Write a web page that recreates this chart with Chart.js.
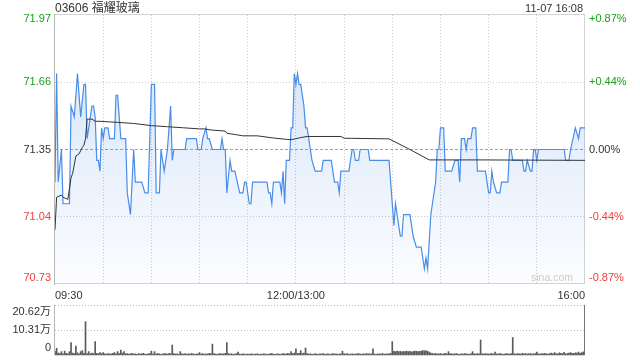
<!DOCTYPE html>
<html><head><meta charset="utf-8">
<script src="https://cdn.jsdelivr.net/npm/chart.js@4/dist/chart.umd.min.js"></script>
<style>
html,body{margin:0;padding:0;background:#fff;width:640px;height:360px;overflow:hidden;}
body{position:relative;font-family:"Liberation Sans",Arial,"Noto Sans CJK SC",sans-serif;}
#title{position:absolute;left:55px;top:0px;font-size:12px;line-height:16px;color:#333;}
#stamp{position:absolute;right:57px;top:0px;font-size:11px;line-height:16px;color:#333;}
#wm{position:absolute;left:531px;top:271px;font-size:10.5px;line-height:12px;color:#cccccc;}
canvas{position:absolute;left:0;}
#pc{top:0}
#vc{top:300px}
</style></head><body>
<canvas id="pc" width="640" height="300"></canvas>
<canvas id="vc" width="640" height="60"></canvas>
<div id="title">03606 福耀玻璃</div>
<div id="stamp">11-07 16:08</div>
<div id="wm">sina.com</div>
<script>
// ---- data ----
const prevClose = 71.35;
const priceTicks = [70.73, 71.04, 71.35, 71.66, 71.97];
const pctLabels = ['-0.87%', '-0.44%', '0.00%', '+0.44%', '+0.87%'];
const timeTicks = [0, 30, 60, 90, 120, 150, 180, 210, 240, 270, 300, 330]; // minutes of trading since 09:30
const timeLabels = {0: '09:30', 150: '12:00/13:00', 330: '16:00'};

const priceMin = [0,1,2,4,5,9,10,12,14,16,18,19,20,21,23,24,25,26,27,28,29,30,31,33,34,37,38,39,41,44,45,47,49,50,54,56,58,60,62,63,65,66,68,70,72,73,74,81,82,88,89,91,92,94,95,96,98,103,104,105,106,107,109,110,112,115,117,118,119,121,122,123,132,133,134,135,136,140,141,142,143,144,146,147,148,149,150,151,152,153,155,156,157,159,160,162,166,167,172,174,176,177,178,183,185,186,187,189,190,195,196,208,210,211,212,213,215,216,217,221,222,223,225,228,229,230,231,232,234,235,237,238,239,240,242,243,247,249,251,252,253,255,256,257,259,260,262,263,268,270,271,272,273,275,277,278,282,283,284,285,291,292,293,294,296,297,298,299,300,301,317,318,320,321,324,326,327,330];
const priceVal = [71.20,71.70,71.20,71.35,71.10,71.10,71.55,71.50,71.70,71.50,71.65,71.65,71.40,71.45,71.55,71.55,71.50,71.30,71.30,71.25,71.45,71.40,71.45,71.45,71.40,71.40,71.60,71.60,71.40,71.40,71.15,71.05,71.35,71.20,71.20,71.15,71.15,71.65,71.65,71.15,71.15,71.35,71.25,71.35,71.55,71.30,71.35,71.35,71.40,71.40,71.35,71.35,71.40,71.45,71.40,71.40,71.35,71.35,71.40,71.35,71.35,71.15,71.30,71.25,71.25,71.15,71.15,71.20,71.20,71.10,71.10,71.20,71.20,71.15,71.15,71.10,71.20,71.20,71.15,71.25,71.10,71.30,71.30,71.45,71.45,71.70,71.65,71.70,71.65,71.65,71.55,71.45,71.45,71.35,71.30,71.25,71.25,71.30,71.30,71.20,71.20,71.15,71.25,71.25,71.35,71.35,71.30,71.30,71.35,71.35,71.30,71.30,71.10,71.00,71.10,71.05,70.95,70.95,71.05,71.05,71.00,70.95,70.90,70.90,70.85,70.80,70.85,70.80,71.05,71.10,71.20,71.35,71.35,71.45,71.45,71.25,71.25,71.30,71.30,71.20,71.40,71.40,71.35,71.40,71.40,71.45,71.45,71.25,71.25,71.15,71.15,71.25,71.20,71.15,71.15,71.20,71.20,71.35,71.35,71.30,71.30,71.25,71.25,71.30,71.25,71.25,71.35,71.35,71.30,71.35,71.35,71.30,71.30,71.35,71.45,71.40,71.45,71.45];

const avgMin = [0,1,4,5,8,10,11,13,15,17,18,19,20,23,25,28,39,49,60,70,80,90,93,97,106,107,113,117,126,136,144,147,153,157,178,180,208,221,233,264,330];
const avgVal = [70.98,71.13,71.14,71.13,71.12,71.22,71.24,71.32,71.33,71.36,71.37,71.40,71.49,71.49,71.48,71.48,71.475,71.47,71.46,71.455,71.45,71.445,71.445,71.44,71.435,71.425,71.418,71.413,71.413,71.403,71.397,71.395,71.405,71.41,71.41,71.402,71.399,71.35,71.302,71.302,71.30];

// volume per minute, 万股 (index = minutes since 09:30)
const volume = [
1.5,2.75,0.8,0.6,1.4,0.5,1.6,0.7,0.5,1.4,5.1,0.8,0.6,3.7,0.9,0.5,1.4,1.8,0.7,13.75,0.6,1.4,0.5,0.8,0.6,5.5,0.7,0.5,1.0,0.6,
1.0,0.5,0.4,0.6,0.5,0.4,0.7,1.0,0.5,1.4,0.6,2.0,0.8,1.4,0.5,0.6,0.4,0.5,0.7,0.4,0.5,0.3,0.6,0.4,0.5,0.7,0.4,0.3,0.5,0.6,
1.6,0.5,1.4,0.4,0.6,0.5,0.3,0.4,0.6,0.5,0.4,0.7,0.5,4.1,0.6,0.4,0.5,0.3,1.4,0.5,0.4,0.6,0.3,0.5,0.4,0.6,0.5,0.3,0.4,0.5,
1.0,0.4,0.6,0.3,0.5,0.4,0.7,0.5,4.5,0.6,0.4,0.3,0.5,0.6,0.4,0.5,0.7,5.1,0.6,0.4,0.5,0.3,0.4,0.6,1.2,0.4,0.3,0.5,0.4,0.3,
0.4,0.3,0.5,0.4,0.3,0.4,0.5,0.3,0.4,0.3,0.5,0.4,0.3,0.4,0.5,0.6,0.4,0.3,0.4,0.5,0.3,0.4,0.6,0.5,0.4,0.7,0.5,1.4,0.6,0.8,
2.5,0.6,0.7,1.8,0.6,0.8,2.9,0.6,0.4,0.5,0.3,0.4,0.5,0.4,0.3,0.5,0.4,0.6,0.3,0.4,0.5,0.3,0.4,0.6,0.4,0.5,0.3,0.4,0.5,1.6,
0.5,0.4,0.6,0.3,0.4,0.5,0.3,0.4,0.5,0.6,0.4,0.3,0.5,0.4,0.6,0.5,0.4,0.5,2.5,0.4,0.3,0.4,0.5,0.4,0.6,0.3,0.5,0.4,0.6,0.6,
5.5,1.5,1.4,1.6,1.4,1.5,1.3,1.5,1.4,1.6,1.4,1.5,1.3,1.4,1.6,1.5,1.4,1.5,1.6,1.8,1.7,1.8,1.5,1.2,0.8,0.6,0.5,0.7,0.4,0.5,
0.6,0.4,0.5,0.7,0.5,1.4,0.6,0.5,0.4,0.5,0.6,0.4,0.3,0.5,0.4,0.6,0.5,0.4,0.3,0.6,1.4,0.5,0.4,0.6,0.5,6.2,0.5,0.4,0.6,0.5,
0.4,0.5,0.6,0.4,1.2,0.5,0.4,0.6,0.5,0.3,0.4,0.6,0.5,0.4,0.6,7.2,0.5,0.4,0.6,0.5,0.4,0.7,0.5,0.6,0.4,0.5,0.6,0.4,0.5,0.6,
1.2,0.5,0.4,0.6,0.5,0.7,0.5,0.4,0.6,0.8,0.5,1.0,0.6,0.5,0.9,0.7,0.6,1.1,0.5,0.6,0.8,1.0,0.7,0.6,0.9,0.8,1.2,0.7,1.0,1.3,
20.62
];
const volTicks = [0, 10.31, 20.62];
const volLabels = ['0', '10.31万', '20.62万'];

// ---- helpers ----
const FONT = '"Liberation Sans", Arial, "Noto Sans CJK SC", sans-serif';
const GREEN = '#1d9e1d', RED = '#f03c3c', DARK = '#333333';
function tickColor(v) { return v > prevClose + 1e-9 ? GREEN : (v < prevClose - 1e-9 ? RED : DARK); }
function edge(text, i, n) { if (i === n - 1) return ['', text]; if (i === 0) return [text, '']; return text; }
function noPad(s) { s.paddingTop = 0; s.paddingBottom = 0; s.paddingLeft = 0; s.paddingRight = 0; }

const priceGrid = {
  id: 'priceGrid',
  beforeDatasetsDraw(chart) {
    const {ctx, chartArea: a, scales: {x, y}} = chart;
    ctx.save();
    ctx.lineWidth = 1;
    ctx.strokeStyle = '#cccccc';
    ctx.setLineDash([1, 2]);
    timeTicks.forEach(t => {
      if (t <= timeTicks[0] || t >= timeTicks[timeTicks.length - 1]) return;
      const px = Math.floor(x.getPixelForValue(t)) + 0.5;
      ctx.beginPath(); ctx.moveTo(px, a.top); ctx.lineTo(px, a.bottom); ctx.stroke();
    });
    priceTicks.forEach((v, i) => {
      if (i === 0 || i === priceTicks.length - 1) return;
      const py = Math.floor(y.getPixelForValue(v)) + 0.5;
      if (v === prevClose) { ctx.strokeStyle = '#a0a0a0'; ctx.setLineDash([3, 2]); }
      else { ctx.strokeStyle = '#cccccc'; ctx.setLineDash([1, 2]); }
      ctx.beginPath(); ctx.moveTo(a.left, py); ctx.lineTo(a.right, py); ctx.stroke();
    });
    ctx.setLineDash([]);
    ctx.strokeStyle = '#d4d4d4';
    ctx.strokeRect(Math.floor(a.left) - 0.5, Math.floor(a.top) - 0.5, Math.round(a.right - a.left), Math.round(a.bottom - a.top));
    ctx.strokeStyle = '#b8b8b8';
    ctx.beginPath(); ctx.moveTo(Math.floor(a.left) - 0.5, a.top - 1); ctx.lineTo(Math.floor(a.left) - 0.5, a.bottom + 1); ctx.stroke();
    ctx.restore();
  }
};

const volGrid = {
  id: 'volGrid',
  beforeDatasetsDraw(chart) {
    const {ctx, chartArea: a, scales: {y}} = chart;
    ctx.save();
    ctx.lineWidth = 1;
    ctx.strokeStyle = '#bdbdbd';
    ctx.setLineDash([1, 2]);
    volTicks.forEach((v, i) => {
      if (i === 0) return;
      const py = Math.floor(y.getPixelForValue(v)) + 0.5;
      ctx.beginPath(); ctx.moveTo(a.left, py); ctx.lineTo(a.right, py); ctx.stroke();
    });
    ctx.setLineDash([]);
    ctx.strokeStyle = '#b8b8b8';
    const lx = Math.floor(a.left) - 0.5;
    ctx.beginPath(); ctx.moveTo(lx, a.top); ctx.lineTo(lx, a.bottom); ctx.stroke();
    ctx.strokeStyle = '#d4d4d4';
    ctx.beginPath(); ctx.moveTo(a.left, Math.floor(a.bottom) + 0.5); ctx.lineTo(a.right, Math.floor(a.bottom) + 0.5); ctx.stroke();
    ctx.restore();
  }
};

function fillGrad(c) {
  const a = c.chart.chartArea;
  if (!a) return 'rgba(74,141,232,0.12)';
  const g = c.chart.ctx.createLinearGradient(0, a.top, 0, a.bottom);
  g.addColorStop(0, 'rgba(74,141,232,0.26)');
  g.addColorStop(1, 'rgba(74,141,232,0.02)');
  return g;
}

const lhPrice = (i, n) => (i === n - 1 ? 8 / 11 : (i === 0 ? 13 / 11 : 1.2));

new Chart(document.getElementById('pc'), {
  type: 'line',
  data: {
    datasets: [
      { label: '均价', data: avgMin.map((m, i) => ({x: m, y: avgVal[i]})), borderColor: '#333333', borderWidth: 1,
        pointRadius: 0, fill: false, order: 0, yAxisID: 'y', tension: 0 },
      { label: '价格', data: priceMin.map((m, i) => ({x: m, y: priceVal[i]})), borderColor: '#4a8de8', borderWidth: 1.2,
        pointRadius: 0, fill: 'start', backgroundColor: fillGrad, order: 1, yAxisID: 'y', tension: 0 }
    ]
  },
  options: {
    responsive: false, animation: false, events: [],
    layout: {padding: {top: 15, left: 0, right: 0, bottom: 0}},
    plugins: {legend: {display: false}, tooltip: {enabled: false}},
    scales: {
      x: {
        type: 'linear', min: timeTicks[0], max: timeTicks[timeTicks.length - 1],
        grid: {display: false, drawTicks: false}, border: {display: false},
        afterBuildTicks: s => { s.ticks = timeTicks.map(v => ({value: v})); },
        afterFit: s => { s.height = 16; noPad(s); },
        ticks: {autoSkip: false, maxRotation: 0, minRotation: 0, align: 'inner', padding: 5, color: '#333',
          font: {size: 11, family: FONT}, callback: v => (timeLabels[v] !== undefined ? timeLabels[v] : '')}
      },
      y: {
        position: 'left', min: priceTicks[0], max: priceTicks[priceTicks.length - 1],
        grid: {display: false, drawTicks: false}, border: {display: false},
        afterBuildTicks: s => { s.ticks = priceTicks.map(v => ({value: v})); },
        afterFit: s => { s.width = 55; noPad(s); },
        ticks: {autoSkip: false, padding: 4, color: c => tickColor(c.tick.value),
          font: c => ({size: 11, family: FONT, lineHeight: lhPrice(c.index, priceTicks.length)}),
          callback: (v, i) => edge(priceTicks[i].toFixed(2), i, priceTicks.length)}
      },
      y2: {
        position: 'right', min: priceTicks[0], max: priceTicks[priceTicks.length - 1],
        grid: {display: false, drawTicks: false}, border: {display: false},
        afterBuildTicks: s => { s.ticks = priceTicks.map(v => ({value: v})); },
        afterFit: s => { s.width = 55; noPad(s); },
        ticks: {autoSkip: false, padding: 4, color: c => tickColor(c.tick.value),
          font: c => ({size: 11, family: FONT, lineHeight: lhPrice(c.index, priceTicks.length)}),
          callback: (v, i) => edge(pctLabels[i], i, pctLabels.length)}
      }
    }
  },
  plugins: [priceGrid]
});

new Chart(document.getElementById('vc'), {
  type: 'bar',
  data: {
    datasets: [{ label: '成交量', data: volume.map((v, i) => ({x: i, y: v})), backgroundColor: '#5a5a5a',
      borderWidth: 0, barThickness: 1 }]
  },
  options: {
    responsive: false, animation: false, events: [],
    layout: {padding: {top: 5, left: 0, right: 55, bottom: 5}},
    plugins: {legend: {display: false}, tooltip: {enabled: false}},
    scales: {
      x: {type: 'linear', min: timeTicks[0], max: timeTicks[timeTicks.length - 1], display: false, offset: false},
      y: {
        position: 'left', min: volTicks[0], max: volTicks[volTicks.length - 1],
        grid: {display: false, drawTicks: false}, border: {display: false},
        afterBuildTicks: s => { s.ticks = volTicks.map(v => ({value: v})); },
        afterFit: s => { s.width = 55; noPad(s); },
        ticks: {autoSkip: false, padding: 4, color: '#333',
          font: c => ({size: 11, family: FONT, lineHeight: (c.index === 1 ? 1.2 : 14 / 11)}),
          callback: (v, i) => edge(volLabels[i], i, volLabels.length)}
      }
    }
  },
  plugins: [volGrid]
});
</script>
</body></html>
